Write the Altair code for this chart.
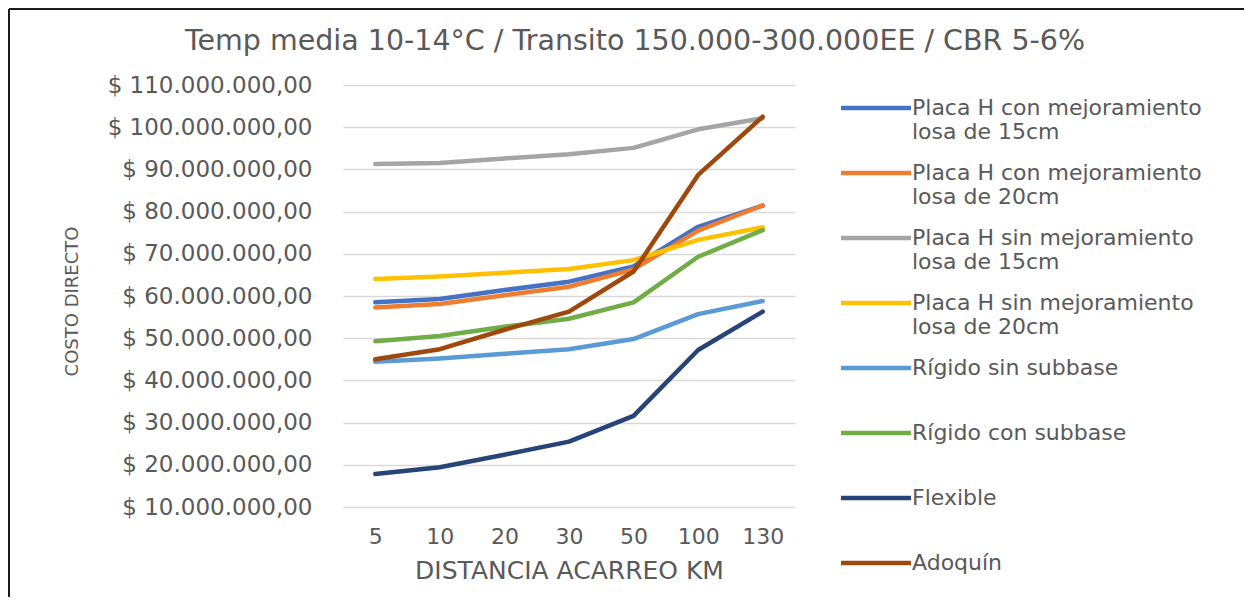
import altair as alt
import pandas as pd

# ---- data (values in millions of pesos) ----
distances = ["5", "10", "20", "30", "50", "100", "130"]
series_names = [
    "Placa H con mejoramiento losa de 15cm",
    "Placa H con mejoramiento losa de 20cm",
    "Placa H sin mejoramiento losa de 15cm",
    "Placa H sin mejoramiento losa de 20cm",
    "Rígido sin subbase",
    "Rígido con subbase",
    "Flexible",
    "Adoquín",
]
placa_con_15 = [58.5, 59.3, 61.4, 63.4, 67.0, 76.4, 81.4]
placa_con_20 = [57.3, 58.1, 60.2, 62.2, 66.3, 75.5, 81.5]
placa_sin_15 = [91.3, 91.5, 92.6, 93.6, 95.1, 99.5, 102.1]
placa_sin_20 = [64.0, 64.6, 65.5, 66.4, 68.5, 73.3, 76.3]
rigido_sin = [44.4, 45.2, 46.3, 47.4, 49.8, 55.7, 58.8]
rigido_con = [49.3, 50.5, 52.7, 54.6, 58.5, 69.3, 75.6]
flexible = [17.8, 19.4, 22.4, 25.5, 31.6, 47.2, 56.3]
adoquin = [45.0, 47.4, 52.0, 56.3, 65.8, 88.7, 102.5]
y_ticks = [10, 20, 30, 40, 50, 60, 70, 80, 90, 100, 110]
colors = ["#4472C4", "#ED7D31", "#A5A5A5", "#FFC000",
          "#5B9BD5", "#70AD47", "#264478", "#9E480E"]

all_series = [placa_con_15, placa_con_20, placa_sin_15, placa_sin_20,
              rigido_sin, rigido_con, flexible, adoquin]
rows = []
for si, (name, vals) in enumerate(zip(series_names, all_series)):
    for d, v in zip(distances, vals):
        rows.append({"serie": name, "orden": si, "distancia": d, "costo": v})
df = pd.DataFrame(rows)

FONT = "DejaVu Sans"
TXT = "#595959"
W, H = 452, 422
PAD = {"left": 335, "top": 77, "right": 450, "bottom": 90}

label_expr = (
    "indexof(datum.label, ' losa') > 0 ? "
    "[substring(datum.label, 0, indexof(datum.label, ' losa')), "
    "substring(datum.label, indexof(datum.label, ' losa') + 1)] : "
    "[datum.label, '']"
)

lines = alt.Chart(df).mark_line(strokeWidth=4.5, strokeCap="round", strokeJoin="round").encode(
    x=alt.X("distancia:O", sort=distances,
            scale=alt.Scale(type="point", padding=0.5),
            axis=alt.Axis(title="DISTANCIA ACARREO KM", labelAngle=0, labelFont=FONT,
                          labelFontSize=22, labelColor=TXT, labelPadding=19,
                          ticks=False, domain=False, grid=False,
                          titleFont=FONT, titleFontSize=25, titleFontWeight="normal",
                          titleColor=TXT, titleY=63, titleBaseline="middle")),
    y=alt.Y("costo:Q", scale=alt.Scale(domain=[10, 110], nice=False, zero=False),
            axis=alt.Axis(title="COSTO DIRECTO", values=y_ticks,
                          labelExpr="'$ ' + datum.value + '.000.000,00'",
                          labelFont=FONT, labelFontSize=23, labelColor=TXT,
                          labelLimit=320, labelPadding=31, ticks=False, domain=False,
                          gridColor="#D9D9D9", gridWidth=1.5,
                          titleFont=FONT, titleFontSize=18, titleFontWeight="normal",
                          titleColor=TXT, titleX=-271, titleY=216,
                          titleBaseline="middle", titleAngle=-90)),
    color=alt.Color("serie:N", sort=series_names,
                    scale=alt.Scale(domain=series_names, range=colors),
                    legend=alt.Legend(title=None, orient="none", legendX=513, legendY=3,
                                      symbolType="M-2,0L2,0", symbolSize=1225,
                                      symbolStrokeWidth=4.5, labelFont=FONT,
                                      labelFontSize=22, labelColor=TXT, labelLimit=420,
                                      labelOffset=16, labelExpr=label_expr,
                                      rowPadding=10, padding=0)),
    order=alt.Order("orden:Q"),
)

frame = alt.Chart(df).mark_rule(color="#1a1a1a", strokeWidth=2).encode(
    x=alt.value(1 - PAD["left"]), x2=alt.value(1 - PAD["left"]),
    y=alt.value(1 - PAD["top"]), y2=alt.value(H + PAD["bottom"]),
)
frame_top = alt.Chart(df).mark_rule(color="#1a1a1a", strokeWidth=2).encode(
    x=alt.value(1 - PAD["left"]), x2=alt.value(W + PAD["right"] - 1),
    y=alt.value(1 - PAD["top"]), y2=alt.value(1 - PAD["top"]),
)

chart = alt.layer(lines, frame, frame_top).properties(
    width=W, height=H,
    padding=PAD,
    autosize=alt.AutoSizeParams(type="none"),
    title=alt.TitleParams(
        "Temp media 10-14°C / Transito 150.000-300.000EE / CBR 5-6%",
        font=FONT, fontSize=28.5, fontWeight="normal", color=TXT,
        anchor="middle", dx=66, dy=47, offset=0,
    ),
).configure_view(stroke=None)

chart.save("out.html", embed_options={"renderer": "svg", "actions": False})
